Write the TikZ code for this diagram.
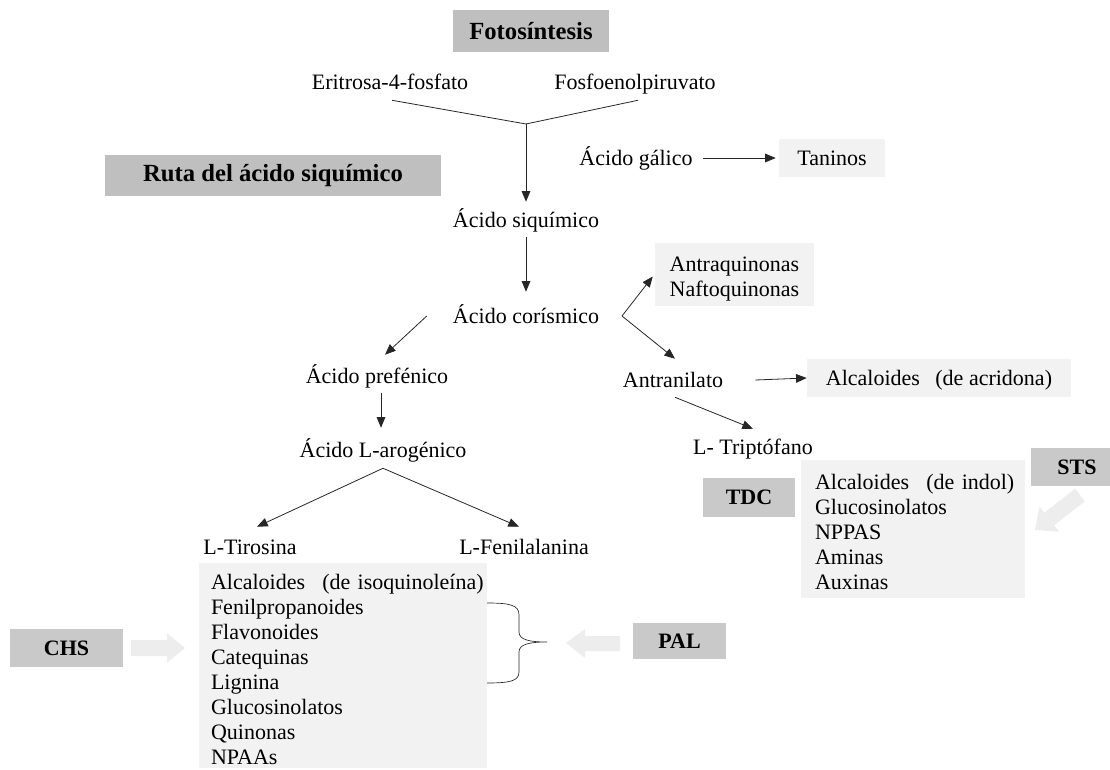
\documentclass[tikz,border=0pt]{standalone}
\usepackage{fontspec}
\setmainfont{Liberation Serif}
\usetikzlibrary{arrows.meta,calc}
\definecolor{hdrgray}{HTML}{BFBFBF}
\definecolor{labgray}{HTML}{C9C9C9}
\definecolor{boxgray}{HTML}{F2F2F2}
\definecolor{arrgray}{HTML}{EDEDED}
\begin{document}
\begin{tikzpicture}[x=0.75pt,y=-0.75pt,
  every node/.style={font=\fontsize{16.5}{18.75}\selectfont},
  txt/.style={inner sep=3pt,text height=13pt,text depth=2pt},
  hdr/.style={fill=hdrgray,inner sep=0pt,font=\fontsize{18.5}{22}\selectfont\bfseries},
  lab/.style={fill=labgray,inner sep=0pt,font=\fontsize{16.5}{20}\selectfont\bfseries},
  lbox/.style={fill=boxgray,inner sep=0pt},
  ln/.style={line width=0.6pt,draw=black!85},
  arr/.style={ln,-{Triangle[length=8pt,width=6.5pt]}},
  fat/.style={fill=arrgray}]
\useasboundingbox (0,0) rectangle (1110,770);

% headers
\node[hdr,minimum width=117pt,minimum height=31.5pt] (foto) at (531,31) {Fotosíntesis};
\node[hdr,minimum width=252pt,minimum height=30.75pt] (ruta) at (273,175.5) {Ruta del ácido siquímico};

% plain text nodes
\node[txt] (eri) at (390,82) {Eritrosa-4-fosfato};
\node[txt] (fosfo) at (635,82) {Fosfoenolpiruvato};
\node[txt] (siqu) at (526,220) {Ácido siquímico};
\node[txt] (cori) at (526,316) {Ácido corísmico};
\node[txt] (galico) at (636,158) {Ácido gálico};
\node[txt] (antran) at (673,380) {Antranilato};
\node[txt] (trip) at (753,447) {L- Triptófano};
\node[txt] (pref) at (377,376) {Ácido prefénico};
\node[txt] (arog) at (383,450) {Ácido L-arogénico};
\node[txt] (tiro) at (250,547) {L-Tirosina};
\node[txt] (fenil) at (524,547) {L-Fenilalanina};

% light boxes
\node[lbox,minimum width=79.5pt,minimum height=28.5pt] (taninos) at (832,158) {Taninos};
\node[lbox,minimum width=119.25pt,minimum height=47.25pt,align=center] (antra) at (734.5,274.5) {\rule{0pt}{18pt}Antraquinonas\\Naftoquinonas};
\node[lbox,minimum width=198pt,minimum height=28.5pt,text height=13pt,text depth=2pt] (acrid) at (939,378) {Alcaloides\hspace{0.45em} (de acridona)};
\node[lbox,minimum height=103.5pt,text width=147pt,inner xsep=10.5pt,align=left] (indol) at (913,529)
  {\mbox{\rule{0pt}{16pt}Alcaloides\hspace{0.45em} (de indol)}\\Glucosinolatos\\NPPAS\\Aminas\\Auxinas};
\node[lbox,minimum height=153.75pt,text width=198pt,inner xsep=9pt,align=left] (list) at (343,665.5)
  {\mbox{\rule{0pt}{17pt}Alcaloides\hspace{0.45em} (de isoquinoleína)}\\Fenilpropanoides\\Flavonoides\\Catequinas\\Lignina\\Glucosinolatos\\Quinonas\\NPAAs};

% enzyme labels
\node[lab,minimum width=69pt,minimum height=29.25pt] (tdc) at (749,497.5) {TDC};
\node[lab,minimum width=69pt,minimum height=28.5pt] (sts) at (1077,467) {STS};
\node[lab,minimum width=84.75pt,minimum height=28.5pt] (chs) at (66.5,648) {CHS};
\node[lab,minimum width=69.75pt,minimum height=27pt] (pal) at (679.5,641) {PAL};

% connectors
\coordinate (j) at (526,124);
\draw[ln] ($(eri.south)+(2,4)$) -- (j);
\draw[ln] ($(fosfo.south)+(3,4)$) -- (j);
\draw[arr] (j) -- ($(siqu.north)+(0,-4)$);
\draw[arr] ($(siqu.south)+(0,3)$) -- ($(cori.north)+(0,-10)$);
\draw[arr] ($(galico.east)+(6,0)$) -- ($(taninos.west)+(-3,0)$);
\coordinate (cfork) at (622,316);
\draw[arr] (cfork) -- ($(antra.west)+(-2,2)$);
\draw[arr] (cfork) -- ($(antran.north)+(2,-7)$);
\draw[arr] ($(antran.east)+(28,0)$) -- (acrid.west);
\draw[arr] ($(antran.south)+(2,3)$) -- ($(trip.north)+(0,-4)$);
\draw[arr] ($(cori.west)+(-22,0)$) -- ($(pref.north)+(8,-7)$);
\draw[arr] ($(pref.south)+(4,3)$) -- ($(arog.north)+(-2,-8)$);
\coordinate (ja) at ($(arog.south)+(0,4)$);
\draw[arr] (ja) -- ($(tiro.north)+(7,-6)$);
\draw[arr] (ja) -- ($(fenil.north)+(-5,-6)$);

% brace
\draw[ln,line width=0.5pt] (487,603) .. controls (510,603) and (519,605) .. (519,615) -- (519,632)
  .. controls (519,640) and (530,642) .. (547,642)
  .. controls (530,642) and (519,644) .. (519,652) -- (519,672)
  .. controls (519,681) and (510,683) .. (487,683);

% block arrows
\fill[fat] (131,640) -- (167,640) -- (167,633) -- (185,648) -- (167,663) -- (167,656) -- (131,656) -- cycle;
\fill[fat] (620,636) -- (585,636) -- (585,629) -- (566,643) -- (585,658) -- (585,651) -- (620,651) -- cycle;
\fill[fat] (1084.9,501.3) -- (1075.1,488.7) -- (1044.3,512.7) -- (1039.4,506.4) -- (1035,530)
  -- (1059.0,531.6) -- (1054.1,525.3) -- cycle;
\end{tikzpicture}
\end{document}
